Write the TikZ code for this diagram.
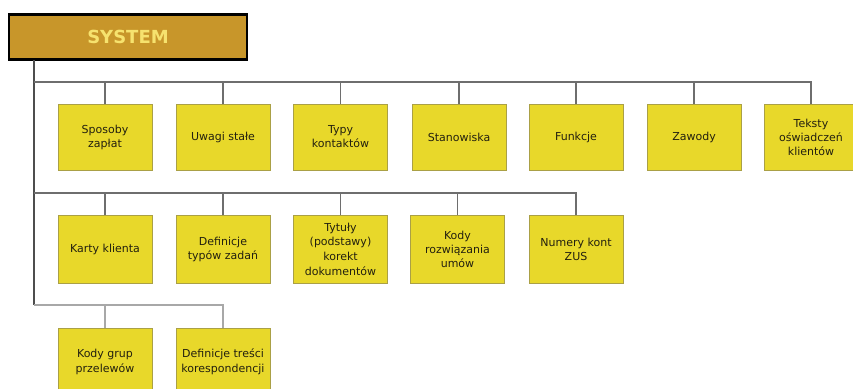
\documentclass[tikz,border=0pt]{standalone}
\usepackage{fontspec}
\setmainfont{DejaVu Sans}
\definecolor{boxyellow}{RGB}{232,216,42}
\definecolor{boxedge}{RGB}{170,160,70}
\definecolor{sysfill}{RGB}{200,150,42}
\definecolor{systext}{RGB}{246,226,110}
\definecolor{linegray}{RGB}{110,110,110}
\definecolor{txt}{RGB}{35,32,15}
\tikzset{
  leaf/.style={draw=boxedge, line width=0.8pt, fill=boxyellow, minimum width=94pt, minimum height=66pt,
    inner sep=2pt, align=center, text=txt, font=\fontsize{11}{14}\selectfont},
  leaftext/.style={text=txt, align=center, font=\fontsize{11}{15}\selectfont},
  sysbox/.style={draw=black, line width=2.5pt, fill=sysfill, minimum width=238pt, minimum height=45pt,
    text=systext, font=\fontsize{18}{21}\selectfont\bfseries},
  conn/.style={draw=linegray, line width=1.1pt},
  trunk/.style={draw=linegray!70!black, line width=1.6pt}
}
\begin{document}
\begin{tikzpicture}[x=1pt,y=-1pt]
\useasboundingbox (0,0) rectangle (853,388);
\clip (0,0) rectangle (853,388);
\fill[white] (0,0) rectangle (853,388);
% root
\node[sysbox] (sys) at (128,37) {SYSTEM};
% bus points
\coordinate (t0) at (34,60);
\coordinate (b1) at (34,82);
\coordinate (b2) at (34,193);
\coordinate (b3) at (34,305);
% row 1
\node[leaf] (a1) at (105,137) {Sposoby\\zapłat};
\node[leaf] (a2) at (223,137) {Uwagi stałe};
\node[leaf] (a3) at (340.5,137) {Typy\\kontaktów};
\node[leaf] (a4) at (459,137) {Stanowiska};
\node[leaf] (a5) at (576,137) {Funkcje};
\node[leaf] (a6) at (694,137) {Zawody};
\node[leaf] (a7) at (811,137) {Teksty\\oświadczeń\\klientów};
% row 2
\node[leaf, minimum height=68pt] (c1) at (105,249) {Karty klienta};
\node[leaf, minimum height=68pt] (c2) at (223,249) {Definicje\\typów zadań};
\node[leaf, minimum height=68pt, font=\fontsize{11}{14.7}\selectfont] (c3) at (340.5,249) {Tytuły\\(podstawy)\\korekt\\dokumentów};
\node[leaf, minimum height=68pt] (c4) at (457.5,249) {Kody\\rozwiązania\\umów};
\node[leaf, minimum height=68pt] (c5) at (576,249) {Numery kont\\ZUS};
% row 3
\node[leaf, minimum height=76pt] (d1) at (105,366) {};
\node[leaf, minimum height=76pt] (d2) at (223,366) {};
\node[leaftext] (d1t) at (105,362) {Kody grup\\przelewów};
\node[leaftext] (d2t) at (223,362) {Definicje treści\\korespondencji};
% trunk
\draw[trunk] (t0) -- (b3);
% bus 1
\foreach \n in {a1,a2,a3,a4,a5,a6,a7} \draw[conn] (b1) -| (\n.north);
% bus 2
\foreach \n in {c1,c2,c3,c4,c5} \draw[conn] (b2) -| (\n.north);
% bus 3
\foreach \n in {d1,d2} \draw[conn, draw=linegray!60] (b3) -| (\n.north);
\end{tikzpicture}
\end{document}
